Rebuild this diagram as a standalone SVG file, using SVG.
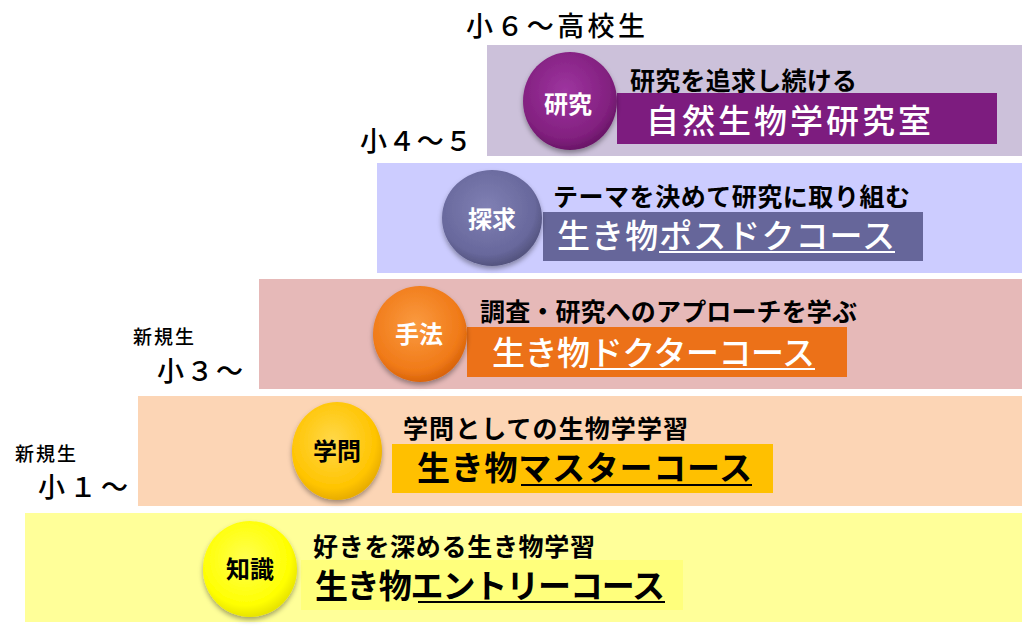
<svg xmlns="http://www.w3.org/2000/svg" width="1024" height="629" viewBox="0 0 1024 629">
<defs>
<style>
text{font-family:"Noto Sans CJK JP","Noto Sans CJK SC",sans-serif;}
.sub{font-size:25px;font-weight:bold;fill:#000;}
.big{font-size:33px;font-weight:500;}
.w{fill:#fff;}
.k{fill:#000;font-weight:bold;}
.lbl{font-size:24px;font-weight:bold;text-anchor:middle;}
.age{font-size:27px;fill:#000;font-weight:500;}
.nw{font-size:19px;fill:#000;font-weight:500;}
.ulw{stroke:#fff;stroke-width:2;}
.ulk{stroke:#000;stroke-width:2.2;}
</style>
<filter id="sh" x="-20%" y="-20%" width="140%" height="150%">
<feDropShadow dx="0" dy="3" stdDeviation="2.5" flood-color="#000" flood-opacity="0.35"/>
</filter>
<radialGradient id="gP" cx="0.45" cy="0.4" r="0.6"><stop offset="0" stop-color="#9e35a0"/><stop offset="0.8" stop-color="#82207f"/><stop offset="1" stop-color="#6a1668"/></radialGradient>
<radialGradient id="gS" cx="0.45" cy="0.4" r="0.6"><stop offset="0" stop-color="#8080b4"/><stop offset="0.8" stop-color="#68689c"/><stop offset="1" stop-color="#54547f"/></radialGradient>
<radialGradient id="gO" cx="0.45" cy="0.4" r="0.6"><stop offset="0" stop-color="#fa9a40"/><stop offset="0.8" stop-color="#f07a18"/><stop offset="1" stop-color="#d9640a"/></radialGradient>
<radialGradient id="gG" cx="0.45" cy="0.4" r="0.6"><stop offset="0" stop-color="#ffd84a"/><stop offset="0.8" stop-color="#ffc400"/><stop offset="1" stop-color="#e8ad00"/></radialGradient>
<radialGradient id="gY" cx="0.45" cy="0.4" r="0.6"><stop offset="0" stop-color="#ffff50"/><stop offset="0.8" stop-color="#ffff00"/><stop offset="1" stop-color="#e8e400"/></radialGradient>
</defs>
<rect width="1024" height="629" fill="#fff"/>

<g id="tier-research">
<rect x="487" y="45" width="535" height="111" fill="#ccc1da"/>
<text class="age" x="466" y="36" textLength="179">小６～高校生</text>
<rect x="617" y="93" width="380" height="51" fill="#7d1c7f"/>
<ellipse cx="570" cy="101" rx="47" ry="49" fill="url(#gP)" filter="url(#sh)"/>
<text class="lbl w" x="568" y="113">研究</text>
<text class="sub" x="630" y="90" textLength="227">研究を追求し続ける</text>
<text class="big w" x="646" y="133" font-size="35" textLength="285">自然生物学研究室</text>
</g>

<g id="tier-postdoc">
<rect x="377" y="163" width="645" height="110" fill="#ccccff"/>
<text class="age" x="360" y="151" textLength="112">小４～５</text>
<rect x="543" y="212" width="380" height="49" fill="#66669a"/>
<ellipse cx="492" cy="218" rx="50" ry="48" fill="url(#gS)" filter="url(#sh)"/>
<text class="lbl w" x="492" y="228">探求</text>
<text class="sub" x="553" y="206" textLength="357">テーマを決めて研究に取り組む</text>
<text class="big w" x="557" y="248" textLength="338">生き物ポスドクコース</text>
<line class="ulw" x1="659" y1="252" x2="895" y2="252"/>
</g>

<g id="tier-doctor">
<rect x="259" y="279" width="763" height="110" fill="#e6b9b8"/>
<text class="nw" x="133" y="344" textLength="61">新規生</text>
<text class="age" x="157" y="381" textLength="86">小３～</text>
<rect x="467" y="327" width="380" height="50" fill="#ec7118"/>
<ellipse cx="420" cy="334" rx="47" ry="48" fill="url(#gO)" filter="url(#sh)"/>
<text class="lbl w" x="419" y="343">手法</text>
<text class="sub" x="480" y="321" textLength="377">調査・研究へのアプローチを学ぶ</text>
<text class="big w" x="492" y="365" textLength="323">生き物ドクターコース</text>
<line class="ulw" x1="590" y1="369" x2="815" y2="369"/>
</g>

<g id="tier-master">
<rect x="138" y="396" width="884" height="110" fill="#fcd5b5"/>
<text class="nw" x="15" y="461" textLength="61">新規生</text>
<text class="age" x="38" y="497" textLength="90">小１～</text>
<rect x="392" y="444" width="381" height="49" fill="#ffc000"/>
<ellipse cx="337" cy="451" rx="45" ry="49" fill="url(#gG)" filter="url(#sh)"/>
<text class="lbl k" x="337" y="460">学問</text>
<text class="sub" x="403" y="438" textLength="285">学問としての生物学学習</text>
<text class="big k" x="417" y="480" textLength="335">生き物マスターコース</text>
<line class="ulk" x1="521" y1="485" x2="752" y2="485"/>
</g>

<g id="tier-entry">
<rect x="25" y="513" width="997" height="109" fill="#ffff99"/>
<rect x="301" y="560" width="382" height="50" fill="#ffff7c"/>
<ellipse cx="250" cy="569" rx="47" ry="48" fill="url(#gY)" filter="url(#sh)"/>
<text class="lbl k" x="250" y="578">知識</text>
<text class="sub" x="313" y="556" textLength="282">好きを深める生き物学習</text>
<text class="big k" x="315" y="598" textLength="350">生き物エントリーコース</text>
<line class="ulk" x1="418" y1="602" x2="665" y2="602"/>
</g>
</svg>
